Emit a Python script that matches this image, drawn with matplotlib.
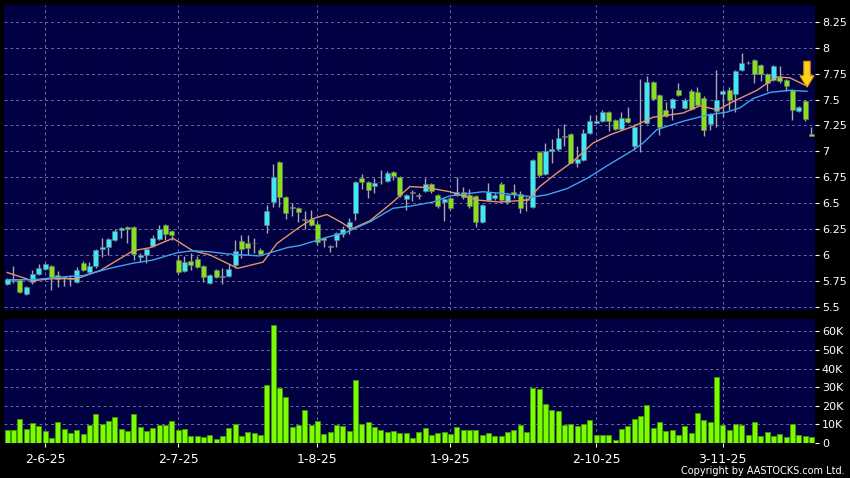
import numpy as np
import matplotlib
matplotlib.use("Agg")
import matplotlib.pyplot as plt
from matplotlib.patches import FancyArrow

# daily candles, oldest first
opens = [5.72, 5.75, 5.76, 5.62, 5.74, 5.82, 5.86, 5.89, 5.81, 5.78,
         5.78, 5.74, 5.92, 5.83, 5.89, 6.06, 6.08, 6.14, 6.24, 6.27,
         6.27, 5.98, 6.00, 6.09, 6.15, 6.29, 6.23, 5.95, 5.84, 5.94,
         5.96, 5.89, 5.73, 5.85, 5.79, 5.80, 5.90, 6.13, 6.11, 6.11,
         6.05, 6.29, 6.51, 6.90, 6.56, 6.46, 6.45, 6.35, 6.35, 6.30,
         6.16, 6.08, 6.14, 6.20, 6.27, 6.40, 6.74, 6.70, 6.67, 6.70,
         6.71, 6.80, 6.75, 6.54, 6.60, 6.57, 6.62, 6.68, 6.58, 6.51,
         6.55, 6.58, 6.61, 6.58, 6.57, 6.32, 6.53, 6.55, 6.68, 6.51,
         6.61, 6.59, 6.53, 6.46, 6.99, 6.78, 7.00, 7.02, 7.14, 7.17,
         6.89, 6.92, 7.18, 7.27, 7.29, 7.38, 7.30, 7.22, 7.32, 7.05,
         7.25, 7.27, 7.67, 7.54, 7.40, 7.42, 7.59, 7.42, 7.58, 7.57,
         7.52, 7.26, 7.39, 7.55, 7.59, 7.55, 7.79, 7.85, 7.88, 7.83,
         7.75, 7.69, 7.72, 7.69, 7.59, 7.39, 7.49, 7.17]
highs = [5.78, 5.89, 5.77, 5.70, 5.85, 5.91, 5.92, 5.90, 5.84, 5.80,
         5.81, 5.88, 5.94, 5.93, 6.06, 6.16, 6.16, 6.25, 6.27, 6.28,
         6.28, 6.02, 6.07, 6.19, 6.29, 6.30, 6.24, 6.00, 5.99, 6.02,
         5.99, 5.90, 5.82, 5.86, 5.87, 5.91, 6.14, 6.19, 6.19, 6.16,
         6.07, 6.48, 6.88, 6.91, 6.57, 6.50, 6.46, 6.42, 6.43, 6.32,
         6.17, 6.10, 6.22, 6.28, 6.36, 6.71, 6.78, 6.71, 6.74, 6.82,
         6.81, 6.81, 6.76, 6.59, 6.63, 6.60, 6.74, 6.69, 6.59, 6.55,
         6.56, 6.75, 6.66, 6.64, 6.58, 6.49, 6.69, 6.60, 6.70, 6.59,
         6.68, 6.62, 6.56, 6.93, 7.00, 7.08, 7.12, 7.23, 7.26, 7.18,
         7.05, 7.22, 7.35, 7.35, 7.40, 7.39, 7.31, 7.38, 7.43, 7.26,
         7.70, 7.73, 7.68, 7.55, 7.48, 7.52, 7.66, 7.52, 7.60, 7.62,
         7.53, 7.37, 7.79, 7.60, 7.62, 7.79, 7.95, 7.87, 7.89, 7.84,
         7.76, 7.83, 7.82, 7.70, 7.60, 7.44, 7.50, 7.24]
lows = [5.71, 5.73, 5.63, 5.61, 5.72, 5.81, 5.85, 5.66, 5.69, 5.70,
        5.70, 5.73, 5.84, 5.82, 5.87, 5.98, 6.00, 6.13, 6.16, 6.11,
        5.95, 5.93, 5.92, 6.08, 6.14, 6.14, 6.14, 5.82, 5.83, 5.85,
        5.87, 5.74, 5.72, 5.78, 5.72, 5.79, 5.87, 5.97, 6.00, 6.02,
        6.00, 6.21, 6.46, 6.46, 6.35, 6.38, 6.32, 6.25, 6.28, 6.10,
        6.08, 6.03, 6.08, 6.17, 6.20, 6.34, 6.64, 6.55, 6.60, 6.68,
        6.70, 6.72, 6.56, 6.43, 6.52, 6.54, 6.61, 6.60, 6.45, 6.33,
        6.43, 6.57, 6.54, 6.45, 6.27, 6.31, 6.52, 6.53, 6.51, 6.49,
        6.55, 6.40, 6.42, 6.45, 6.75, 6.77, 6.89, 7.00, 7.05, 6.89,
        6.85, 6.91, 7.17, 7.26, 7.28, 7.20, 7.21, 7.21, 7.27, 7.01,
        6.99, 7.26, 7.50, 7.16, 7.33, 7.30, 7.53, 7.41, 7.40, 7.44,
        7.15, 7.21, 7.24, 7.33, 7.40, 7.38, 7.78, 7.84, 7.66, 7.68,
        7.58, 7.68, 7.66, 7.58, 7.30, 7.38, 7.29, 7.15]
closes = [5.77, 5.76, 5.64, 5.69, 5.82, 5.87, 5.91, 5.79, 5.77, 5.78,
          5.77, 5.85, 5.85, 5.89, 6.05, 6.08, 6.15, 6.23, 6.26, 6.25,
          6.01, 6.00, 6.06, 6.16, 6.25, 6.20, 6.19, 5.83, 5.93, 5.90,
          5.88, 5.79, 5.81, 5.79, 5.79, 5.86, 6.04, 6.06, 6.07, 6.11,
          6.01, 6.42, 6.75, 6.56, 6.40, 6.45, 6.41, 6.34, 6.29, 6.12,
          6.14, 6.08, 6.21, 6.25, 6.32, 6.70, 6.70, 6.63, 6.69, 6.70,
          6.79, 6.76, 6.58, 6.58, 6.60, 6.57, 6.68, 6.62, 6.47, 6.54,
          6.45, 6.61, 6.56, 6.47, 6.32, 6.48, 6.61, 6.58, 6.53, 6.58,
          6.59, 6.45, 6.53, 6.92, 6.77, 7.00, 7.02, 7.13, 7.14, 6.89,
          6.93, 7.18, 7.29, 7.29, 7.38, 7.29, 7.22, 7.32, 7.28, 7.24,
          7.25, 7.67, 7.51, 7.24, 7.34, 7.51, 7.54, 7.50, 7.41, 7.45,
          7.21, 7.36, 7.50, 7.58, 7.50, 7.78, 7.85, 7.85, 7.75, 7.75,
          7.66, 7.82, 7.68, 7.63, 7.40, 7.43, 7.31, 7.15]
volume_k = [6.8, 6.8, 12.9, 7.7, 10.7, 8.9, 6.4, 2.9, 11.3, 7.3,
            5.5, 6.8, 4.6, 9.5, 15.5, 10.0, 12.0, 13.9, 7.7, 6.4,
            15.4, 8.6, 6.3, 8.2, 9.6, 9.6, 12.0, 7.0, 7.5, 3.9,
            3.6, 3.2, 4.3, 2.1, 3.9, 8.0, 10.4, 3.9, 5.9, 5.4,
            4.1, 31.0, 63.4, 29.6, 24.6, 8.75, 9.8, 17.9, 9.5, 11.6,
            5.0, 6.1, 9.6, 8.9, 6.6, 33.6, 10.2, 11.4, 8.4, 7.1,
            6.1, 6.4, 5.5, 5.2, 2.5, 5.7, 8.0, 4.5, 5.4, 6.1,
            5.0, 8.6, 6.8, 6.8, 6.8, 4.1, 5.4, 3.6, 3.6, 5.7,
            7.1, 9.5, 5.9, 29.5, 29.1, 21.0, 17.5, 17.3, 9.8, 10.0,
            8.9, 10.0, 12.1, 4.3, 4.3, 4.3, 1.8, 7.7, 8.9, 12.9,
            14.3, 20.5, 7.9, 11.3, 6.3, 7.1, 4.5, 9.3, 5.4, 16.1,
            12.5, 11.4, 35.4, 9.5, 7.1, 10.0, 9.5, 4.1, 11.3, 3.9,
            5.9, 3.9, 4.6, 3.2, 10.0, 4.1, 3.9, 3.0]

# moving averages, read at (bar, value) points
ma_fast_bar = [0, 4, 7, 11, 14.7, 19.9, 22.6, 26.2, 29.3, 32, 36.4, 40.4, 42.6,
               46.2, 48.3, 50.5, 52.6, 54.4, 57.3, 60.9, 63.6, 66.3, 69.9, 74.2,
               77.8, 82.2, 84.1, 86.8, 89.3, 92.5, 95.2, 98.8, 102, 106.7, 109.4,
               112.2, 114.6, 118.4, 121.5, 123.6, 126]
ma_fast = [5.83, 5.75, 5.77, 5.77, 5.85, 6.04, 6.07, 6.16, 6.04, 6.00, 5.87, 5.93,
           6.11, 6.27, 6.35, 6.39, 6.32, 6.25, 6.33, 6.51, 6.66, 6.65, 6.61, 6.53,
           6.51, 6.53, 6.66, 6.79, 6.90, 7.08, 7.16, 7.24, 7.33, 7.37, 7.44, 7.40,
           7.48, 7.59, 7.72, 7.71, 7.64]
ma_slow_bar = [0, 4, 9.4, 12, 16.2, 19.9, 23, 26.8, 29.3, 32, 34.7, 39.9, 44.2,
               46.2, 50.5, 53.6, 57.3, 60.9, 63.6, 67.2, 69.9, 75.1, 78.9, 83,
               85.2, 88.4, 91.6, 94.7, 98.8, 100.4, 102.6, 106.7, 110.5, 113.7,
               115.7, 117.8, 120.5, 123.6, 126.3]
ma_slow = [5.76, 5.76, 5.79, 5.80, 5.87, 5.92, 5.95, 6.02, 6.04, 6.03, 6.01, 5.99,
           6.07, 6.09, 6.17, 6.22, 6.32, 6.45, 6.47, 6.51, 6.57, 6.61, 6.59, 6.56,
           6.58, 6.64, 6.74, 6.86, 7.01, 7.08, 7.21, 7.29, 7.35, 7.38, 7.42, 7.51,
           7.57, 7.59, 7.58]

date_labels = ["2-6-25", "2-7-25", "1-8-25", "1-9-25", "2-10-25", "3-11-25"]
date_bars = [6, 27, 49, 70, 93, 113]
price_ticks = [5.5, 5.75, 6, 6.25, 6.5, 6.75, 7, 7.25, 7.5, 7.75, 8, 8.25]
vol_ticks_k = [0, 10, 20, 30, 40, 50, 60]

BG = "#000042"
GRID = "#6a6aa8"
UP = "#3ee8f4"
DOWN = "#86e01e"
WICK = "#a8a8b0"

o = np.array(opens)
h = np.array(highs)
l = np.array(lows)
c = np.array(closes)
x = np.arange(len(o))

fig = plt.figure(figsize=(8.5, 4.78), dpi=100, facecolor="black")
ax = fig.add_axes([0.0047, 0.352, 0.954, 0.638])
axv = fig.add_axes([0.0047, 0.0732, 0.954, 0.2595])

for a in (ax, axv):
    a.set_facecolor(BG)
    for s in a.spines.values():
        s.set_visible(False)
    a.yaxis.tick_right()
    a.tick_params(colors="white", labelsize=9, length=3, width=0.8)
    a.tick_params(axis="y", labelsize=8, pad=2)
    a.set_xlim(-0.5, len(o) - 0.45)
    a.set_xticks(date_bars)
    a.grid(True, color=GRID, linestyle=(0, (3, 3)), linewidth=0.7)
    a.set_axisbelow(True)

# candles
ax.vlines(x, l, h, color=WICK, linewidth=1, zorder=2)
body_lo = np.minimum(o, c)
body_h = np.maximum(np.abs(c - o), 0.008)
cols = np.where(c > o, UP, np.where(c < o, DOWN, WICK))
ax.bar(x, body_h, bottom=body_lo, width=0.78, color=cols,
       edgecolor="#707078", linewidth=0.4, zorder=3)

ax.plot(ma_fast_bar, ma_fast, color="#e8946a", linewidth=1, zorder=4)
ax.plot(ma_slow_bar, ma_slow, color="#3fa4ee", linewidth=1, zorder=4)

ax.set_ylim(5.47, 8.416)
ax.set_yticks(price_ticks)
ax.set_yticklabels(["%g" % t for t in price_ticks])
ax.tick_params(axis="x", labelbottom=False, length=0)

# yellow signal arrow over the last bars
ax_x = len(o) - 1.7
ax.add_patch(FancyArrow(ax_x, ma_fast[-1] + 0.23, 0, -0.14, width=1.0,
                        head_width=2.2, head_length=0.11,
                        length_includes_head=False, facecolor="#ffd21a",
                        edgecolor="#e09a00", linewidth=0.8, zorder=6))

# volume
axv.bar(x, volume_k, width=0.8, color="#7cfc00", edgecolor="#3f9a00",
        linewidth=0.6, zorder=3)
axv.set_ylim(0, 66.6)
axv.set_yticks(vol_ticks_k)
axv.set_yticklabels(["0"] + ["%dK" % v for v in vol_ticks_k[1:]])
axv.set_xticklabels(date_labels)
axv.tick_params(axis="x", pad=4)

fig.text(0.994, 0.004, "Copyright by AASTOCKS.com Ltd.", color="white",
         fontsize=7, ha="right", va="bottom")

fig.savefig("out.png", dpi=100, facecolor="black")
